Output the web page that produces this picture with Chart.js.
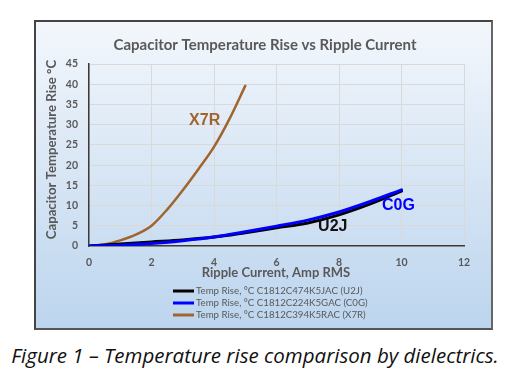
<!DOCTYPE html>
<html>
<head>
<meta charset="utf-8">
<script src="https://cdn.jsdelivr.net/npm/chart.js@4.4.1/dist/chart.umd.min.js"></script>
<style>
  html, body { margin: 0; padding: 0; background: #ffffff; width: 532px; height: 386px; overflow: hidden; }
  #box { position: absolute; left: 34px; top: 20px; width: 455px; height: 306px;
         border: 2px solid #444; border-right-color: #666; border-bottom-color: #555;
         background: linear-gradient(to bottom, #f3f7fc 0%, #dae7f5 45%, #bcd5ee 100%); }
  #c { display: block; }
  #caption { position: absolute; left: 0; width: 510px; top: 341px; text-align: center;
             font-family: "Open Sans", "Liberation Sans", sans-serif; font-style: italic;
             font-size: 20.5px; color: #111; white-space: nowrap; }
</style>
</head>
<body>
<div id="box"><canvas id="c" width="455" height="306"></canvas></div>
<div id="caption">Figure 1 – Temperature rise comparison by dielectrics.</div>
<script>
// ---- data ----
const u2jX = [0, 1, 2, 3, 4, 5, 6, 7, 8, 9, 10];
const u2jY = [0, 0.5, 1.0, 1.5, 2.2, 3.3, 4.5, 5.7, 7.7, 10.4, 13.6];
const c0gX = [0, 1, 2, 3, 4, 5, 6, 7, 8, 9, 10];
const c0gY = [0, 0.2, 0.6, 1.3, 2.2, 3.5, 4.9, 6.4, 8.4, 11.0, 13.9];
const x7rX = [0, 0.5, 1, 1.5, 2, 2.5, 3, 3.5, 4, 4.5, 5];
const x7rY = [0, 0.4, 1.4, 2.8, 5.0, 9.0, 13.8, 19.0, 24.5, 31.5, 39.6];
const seriesNames = [
  "Temp Rise, °C C1812C474K5JAC (U2J)",
  "Temp Rise, °C C1812C224K5GAC (C0G)",
  "Temp Rise, °C C1812C394K5RAC (X7R)"
];
const seriesColors = ["#000000", "#0000ff", "#a0652f"];
const xTicks = [0, 2, 4, 6, 8, 10, 12];
const yTicks = [0, 5, 10, 15, 20, 25, 30, 35, 40, 45];
const chartTitle = "Capacitor Temperature Rise vs Ripple Current";
const xTitle = "Ripple Current, Amp RMS";
const yTitle = "Capacitor Temperature Rise °C";
// in-plot labels
const labelText = ["X7R", "U2J", "C0G"];
const labelX = [3.7, 7.8, 9.9];
const labelY = [31.0, 4.7, 10.1];
const labelColor = ["#a0652f", "#111111", "#0000ff"];

const pts = (xs, ys) => xs.map((x, i) => ({ x: x, y: ys[i] }));

const FONT = "Lato, 'Open Sans', 'Liberation Sans', sans-serif";
const GRAY = "#595959";

const textPlugin = {
  id: 'texts',
  afterDraw(chart) {
    const ctx = chart.ctx;
    const xs = chart.scales.x, ys = chart.scales.y;
    ctx.save();
    ctx.fillStyle = GRAY;
    ctx.textAlign = 'center';
    ctx.textBaseline = 'middle';
    ctx.font = "bold 15px " + FONT;
    ctx.fillText(chartTitle, 229, 23);
    ctx.font = "bold 13px " + FONT;
    ctx.fillText(xTitle, 240, 251);
    ctx.save();
    ctx.translate(16, 127.5);
    ctx.rotate(-Math.PI / 2);
    ctx.font = "bold 13.2px " + FONT;
    ctx.fillText(yTitle, 0, 0);
    ctx.restore();
    ctx.font = "bold 16px 'Liberation Sans', Arial, sans-serif";
    for (let i = 0; i < labelText.length; i++) {
      ctx.fillStyle = labelColor[i];
      ctx.fillText(labelText[i], xs.getPixelForValue(labelX[i]), ys.getPixelForValue(labelY[i]));
    }
    ctx.textAlign = 'left';
    ctx.font = "9.7px " + FONT;
    for (let i = 0; i < seriesNames.length; i++) {
      const y = 269 + i * 12;
      ctx.strokeStyle = seriesColors[i];
      ctx.lineWidth = 3;
      ctx.beginPath();
      ctx.moveTo(137, y);
      ctx.lineTo(158, y);
      ctx.stroke();
      ctx.fillStyle = GRAY;
      ctx.fillText(seriesNames[i], 160, y);
    }
    ctx.restore();
  }
};

new Chart(document.getElementById('c'), {
  type: 'line',
  data: {
    datasets: [
      { label: seriesNames[0], data: pts(u2jX, u2jY), borderColor: seriesColors[0], borderWidth: 3, order: 1 },
      { label: seriesNames[1], data: pts(c0gX, c0gY), borderColor: seriesColors[1], borderWidth: 3, order: 0 },
      { label: seriesNames[2], data: pts(x7rX, x7rY), borderColor: seriesColors[2], borderWidth: 2.5, order: 2 }
    ]
  },
  options: {
    responsive: false,
    animation: false,
    devicePixelRatio: 1,
    layout: { padding: { left: 0, top: 42, right: 27, bottom: 0 } },
    elements: {
      point: { radius: 0 },
      line: { cubicInterpolationMode: 'monotone', fill: false, borderCapStyle: 'round' }
    },
    plugins: { legend: { display: false }, title: { display: false }, tooltip: { enabled: false } },
    scales: {
      x: {
        type: 'linear', min: 0, max: 12,
        afterBuildTicks: s => { s.ticks = xTicks.map(v => ({ value: v })); },
        afterFit: s => { s.height = 82; },
        grid: { color: '#d9d9d9', drawTicks: false, lineWidth: 1 },
        border: { color: '#3a3a3a', width: 1.5 },
        ticks: { padding: 10, color: GRAY, font: { family: FONT, size: 10.5, weight: 'bold' }, maxRotation: 0 }
      },
      y: {
        min: 0, max: 45,
        afterBuildTicks: s => { s.ticks = yTicks.map(v => ({ value: v })); },
        afterFit: s => { s.width = 53; },
        grid: { color: '#d9d9d9', drawTicks: false, lineWidth: 1 },
        border: { color: '#3a3a3a', width: 1.5 },
        ticks: { padding: 11, color: GRAY, font: { family: FONT, size: 10.5, weight: 'bold' } }
      }
    }
  },
  plugins: [textPlugin]
});
</script>
</body>
</html>
